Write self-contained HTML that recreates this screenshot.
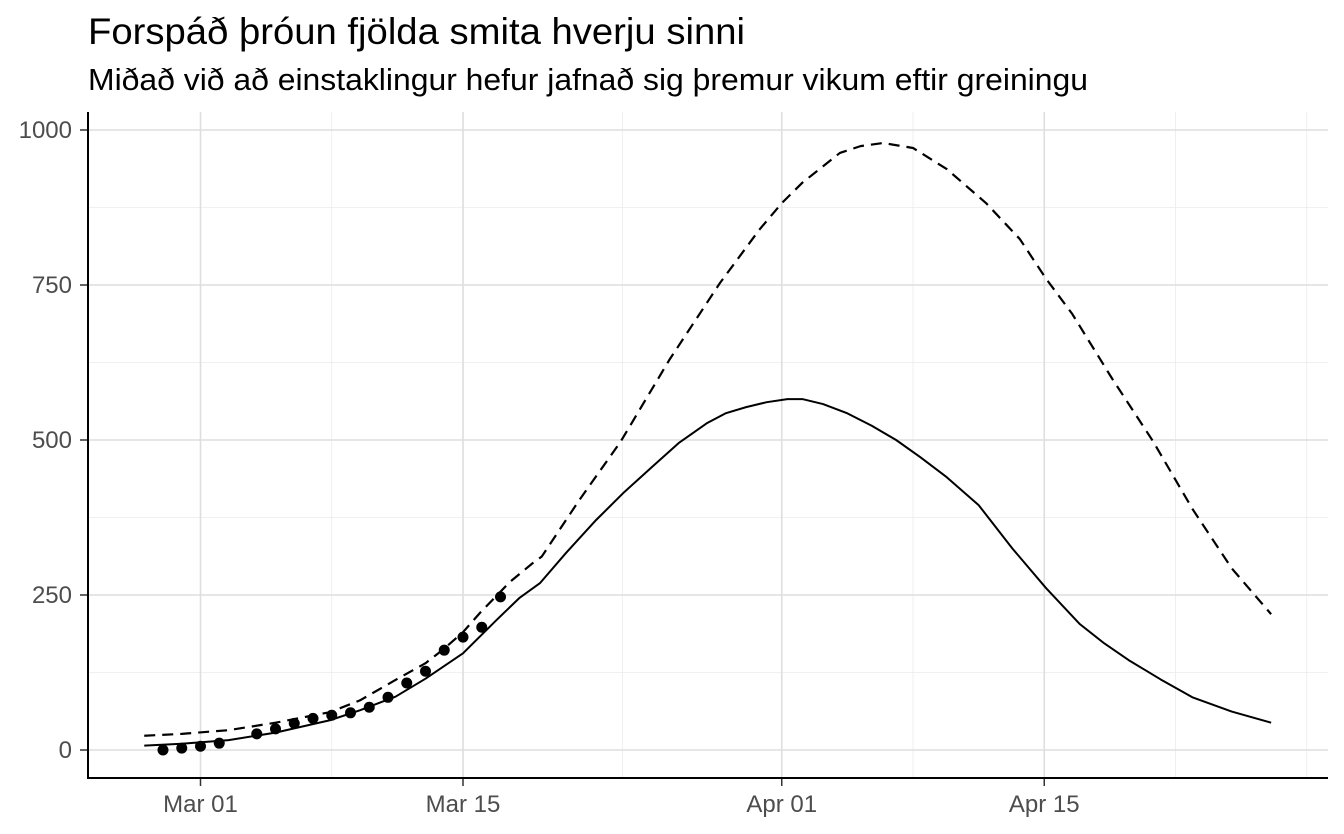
<!DOCTYPE html>
<html><head><meta charset="utf-8"><style>
html,body{margin:0;padding:0;background:#fff;}
svg{display:block;font-family:"Liberation Sans",Arial,sans-serif;}
</style></head><body>
<svg id="chart" width="1344" height="834">
<text x="88" y="44" font-size="37" fill="#000" textLength="657" lengthAdjust="spacingAndGlyphs">Forspáð þróun fjölda smita hverju sinni</text>
<text x="88" y="90" font-size="31" fill="#000" textLength="1000" lengthAdjust="spacingAndGlyphs">Miðað við að einstaklingur hefur jafnað sig þremur vikum eftir greiningu</text>
<g id="grid"></g><g id="marks"></g><g id="axes"></g>
</svg>
<script>
const xBreakDays=[0,14,31,45];
const xBreakLabels=["Mar 01","Mar 15","Apr 01","Apr 15"];
const xMinorDays=[7,22.5,38,52,59];
const yBreaks=[0,250,500,750,1000];
const yMinor=[125,375,625,875];
const pointDays=[-2,-1,0,1,3,4,5,6,7,8,9,10,11,12,13,14,15,16];
const pointValues=[0,3,6,11,26,34,43,51,56,60,69,85,108,127,161,182,198,247];
const solidDays=[-3,-1,1.5,4,6.9,8.5,10.4,12,14,15.8,17,18.1,19.5,21.1,22.6,24.1,25.5,27,28,29.1,30.2,31.3,32.1,33.2,34.5,35.8,37.1,38.4,39.8,41.5,43.3,45.1,46.9,48.2,49.5,51.2,52.9,55,57.1];
const solidValues=[7,10,16,28,48,64,86,115,156,210,245,269,318,371,416,457,495,527,543,553,561,566,566,558,543,523,500,472,440,395,325,261,203,172,145,114,85,62,44];
const dashDays=[-3,-1,1.5,4,6.9,8.5,10.4,12,12.9,14,14.9,16.5,17.7,18.2,20.2,22.4,25,27.7,29.8,31,32.1,34.1,35.2,36.4,38,39.8,41.9,43.7,45.1,46.5,48.6,50.8,52.9,55,57.1];
const dashValues=[23,26,32,44,61,80,113,140,161,190,221,271,301,312,403,497,629,753,839,882,915,963,974,979,971,937,882,824,760,703,600,498,389,293,219];

const X=d=>200.5+d*18.75;
const Y=v=>750-v*0.62;
const NS="http://www.w3.org/2000/svg";
function mk(tag,attrs,parent){const e=document.createElementNS(NS,tag);for(const k in attrs)e.setAttribute(k,attrs[k]);document.getElementById(parent).appendChild(e);return e;}
const L=88,R=1328,T=112,B=778;
yMinor.forEach(v=>{const e=mk('line',{x1:L,x2:R,y1:Y(v),y2:Y(v),stroke:'#ebebeb','stroke-width':0.8},'grid');

});
xMinorDays.forEach(d=>{const e=mk('line',{x1:X(d),x2:X(d),y1:T,y2:B,stroke:'#ebebeb','stroke-width':0.8},'grid');

});
yBreaks.forEach(v=>{const e=mk('line',{x1:L,x2:R,y1:Y(v),y2:Y(v),stroke:'#dedede','stroke-width':1.6},'grid');


const t=mk('text',{x:72,y:Y(v)+8,'text-anchor':'end','font-size':24,fill:'#4d4d4d'},'axes');t.textContent=v;


const k=mk('line',{x1:L-8,x2:L,y1:Y(v),y2:Y(v),stroke:'#333','stroke-width':1.5},'axes');

});
xBreakDays.forEach((d,i)=>{const e=mk('line',{x1:X(d),x2:X(d),y1:T,y2:B,stroke:'#dedede','stroke-width':1.6},'grid');


const t=mk('text',{x:X(d),y:812,'text-anchor':'middle','font-size':24,fill:'#4d4d4d'},'axes');t.textContent=xBreakLabels[i];


const k=mk('line',{x1:X(d),x2:X(d),y1:B,y2:B+8,stroke:'#333','stroke-width':1.5},'axes');

});
const ya=mk('line',{x1:L,x2:L,y1:T,y2:B+1,stroke:'#000','stroke-width':2},'axes');


const xa=mk('line',{x1:L,x2:R,y1:B,y2:B,stroke:'#000','stroke-width':2},'axes');


const ds=mk('polyline',{points:dashDays.map((d,i)=>X(d)+','+Y(dashValues[i])).join(' '),fill:'none',stroke:'#000','stroke-width':2.2,'stroke-dasharray':'11,7','stroke-linejoin':'round'},'marks');


const sl=mk('polyline',{points:solidDays.map((d,i)=>X(d)+','+Y(solidValues[i])).join(' '),fill:'none',stroke:'#000','stroke-width':2,'stroke-linejoin':'round'},'marks');


pointDays.forEach((d,i)=>{const c=mk('circle',{cx:X(d),cy:Y(pointValues[i]),r:5.5,fill:'#000'},'marks');

});
</script>
</body></html>
